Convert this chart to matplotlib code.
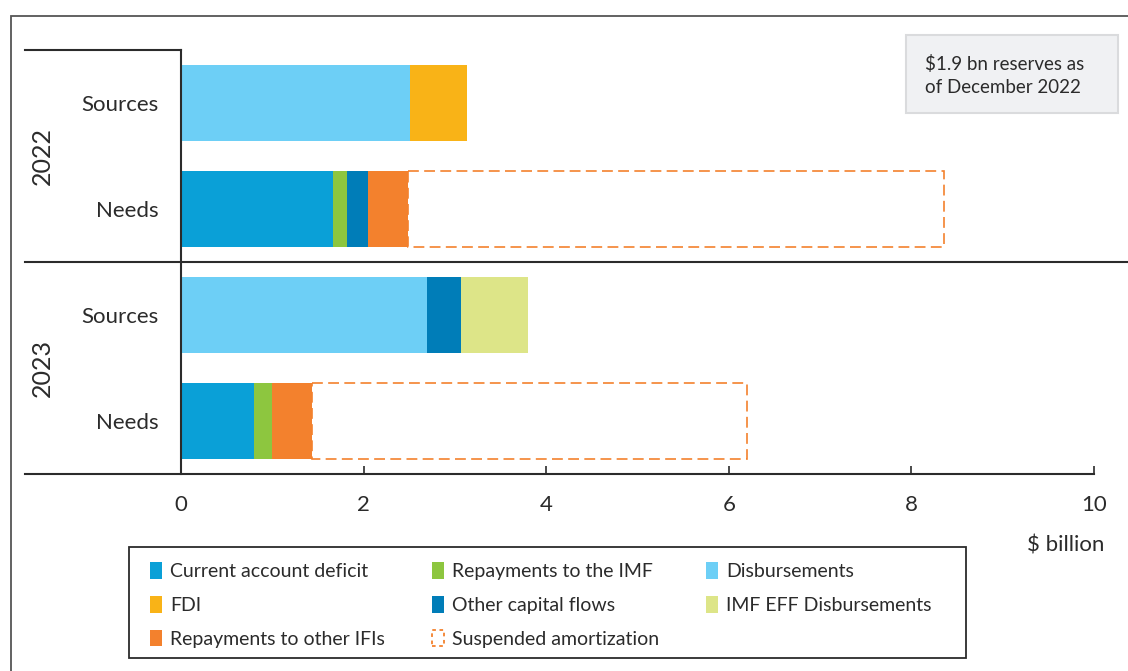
import matplotlib
matplotlib.use("Agg")
import matplotlib.pyplot as plt
from matplotlib.patches import Rectangle, Patch
from matplotlib.lines import Line2D
import matplotlib.transforms as mtransforms

plt.rcParams['font.family'] = ['Lato', 'DejaVu Sans']

# ---- data ----
categories = ["Sources", "Needs", "Sources", "Needs"]
years = ["2022", "2023"]
# rows: 2022 Sources, 2022 Needs, 2023 Sources, 2023 Needs
ca_deficit = [0.00, 1.67, 0.00, 0.80]
repay_imf = [0.00, 0.15, 0.00, 0.20]
disbursements = [2.51, 0.00, 2.69, 0.00]
other_capital = [0.00, 0.23, 0.38, 0.00]
fdi = [0.62, 0.00, 0.00, 0.00]
imf_eff = [0.00, 0.00, 0.73, 0.00]
repay_ifis = [0.00, 0.44, 0.00, 0.43]
suspended = [0.00, 5.87, 0.00, 4.77]
x_ticks = [0, 2, 4, 6, 8, 10]
annotation = "$1.9 bn reserves as\nof December 2022"

series = [
    ("Current account deficit", ca_deficit, "#0AA0D7"),
    ("Repayments to the IMF", repay_imf, "#8DC63F"),
    ("Disbursements", disbursements, "#6DCFF6"),
    ("Other capital flows", other_capital, "#007DB8"),
    ("FDI", fdi, "#F9B317"),
    ("IMF EFF Disbursements", imf_eff, "#DDE588"),
    ("Repayments to other IFIs", repay_ifis, "#F3812D"),
]
orange = "#F3812D"
dark = "#2B2B2B"

W, H = 1128, 671
fig = plt.figure(figsize=(W / 100, H / 100), dpi=100)
fig.patch.set_facecolor("white")

def fx(px):
    return px / W

def fy(py):
    return 1 - py / H

# outer frame (extends beyond right/bottom edges)
fig.patches.append(Rectangle((fx(10.5), fy(700)), fx(1200) - fx(10.5), fy(15.5) - fy(700),
                             transform=fig.transFigure, fill=False, edgecolor="#555555",
                             linewidth=1.3, zorder=0))

ax_l, ax_r, ax_t, ax_b = 181, 1094, 50, 474
ax = fig.add_axes([fx(ax_l), fy(ax_b), fx(ax_r) - fx(ax_l), fy(ax_t) - fy(ax_b)])

rows = list(range(len(categories)))
bar_h = 0.72
left = [0.0] * len(rows)
for name, vals, col in series:
    ax.barh(rows, vals, left=left, height=bar_h, color=col, linewidth=0, zorder=2)
    left = [l + v for l, v in zip(left, vals)]

# suspended amortization (dashed outline)
idx = [i for i, v in enumerate(suspended) if v > 0]
ax.barh([rows[i] for i in idx], [suspended[i] for i in idx],
        left=[left[i] for i in idx], height=bar_h, fill=False,
        edgecolor=orange, linestyle=(0, (6.5, 3.2)), linewidth=1.2, zorder=2)

ax.set_xlim(0, 10)
ax.set_ylim(3.5, -0.5)
for s in ax.spines.values():
    s.set_visible(False)

ax.set_yticks(rows, categories)
ax.tick_params(axis="y", length=0, pad=16, labelsize=16, labelcolor=dark)
ax.set_xticks(x_ticks, [str(t) for t in x_ticks])
ax.tick_params(axis="x", direction="in", length=6, width=1.2, color=dark,
               pad=15, labelsize=16, labelcolor=dark)

# structural lines
lx = (25 - ax_l) / (ax_r - ax_l)
rx = (1200 - ax_l) / (ax_r - ax_l)
trans = mtransforms.blended_transform_factory(ax.transAxes, ax.transData)
lw = 1.5
ax.add_line(Line2D([0, 0], [0, 1], transform=ax.transAxes, color=dark, lw=lw, clip_on=False, zorder=3))
ax.add_line(Line2D([lx, 0], [1, 1], transform=ax.transAxes, color=dark, lw=lw, clip_on=False))
ax.add_line(Line2D([lx, 1], [0, 0], transform=ax.transAxes, color=dark, lw=lw, clip_on=False))
ax.add_line(Line2D([lx, rx], [1.5, 1.5], transform=trans, color=dark, lw=lw, clip_on=False))

# year labels
yx = (42 - ax_l) / (ax_r - ax_l)
for k, yr in enumerate(years):
    ax.text(yx, 2 * k + 0.5, yr, transform=trans, rotation=90, ha="center", va="center",
            fontsize=18, color=dark)

# axis unit label
fig.text(fx(1104), fy(545), "$ billion", ha="right", va="center", fontsize=16, color=dark)

# annotation box
fig.patches.append(Rectangle((fx(906), fy(113)), fx(1118) - fx(906), fy(35) - fy(113),
                             transform=fig.transFigure, facecolor="#F0F1F3",
                             edgecolor="#DADBDD", linewidth=1.5, zorder=1))
fig.text(fx(925), fy(75.5), annotation, ha="left", va="center", fontsize=13.5,
         color=dark, linespacing=1.45, zorder=2)

# legend frame
fig.patches.append(Rectangle((fx(129), fy(658)), fx(966) - fx(129), fy(547) - fy(658),
                             transform=fig.transFigure, fill=False, edgecolor=dark,
                             linewidth=1.3, zorder=1))

# legend
hmap = {name: Patch(facecolor=col, edgecolor="none") for name, _, col in series}
susp_handle = Patch(facecolor="white", edgecolor=orange, linestyle=(0, (2, 2)), linewidth=1.3)
order = ["Current account deficit", "FDI", "Repayments to other IFIs",
         "Repayments to the IMF", "Other capital flows", "Suspended amortization",
         "Disbursements", "IMF EFF Disbursements"]
handles = [susp_handle if n == "Suspended amortization" else hmap[n] for n in order]
leg = fig.legend(handles, order, ncol=3, loc="center left",
                 bbox_to_anchor=(fx(150), fy(605)),
                 frameon=False, fontsize=14,
                 handlelength=0.62, handleheight=0.95, handletextpad=0.42,
                 labelspacing=0.8, borderpad=0, columnspacing=2.4, borderaxespad=0)
for t in leg.get_texts():
    t.set_color(dark)

fig.savefig("out.png", dpi=100)
